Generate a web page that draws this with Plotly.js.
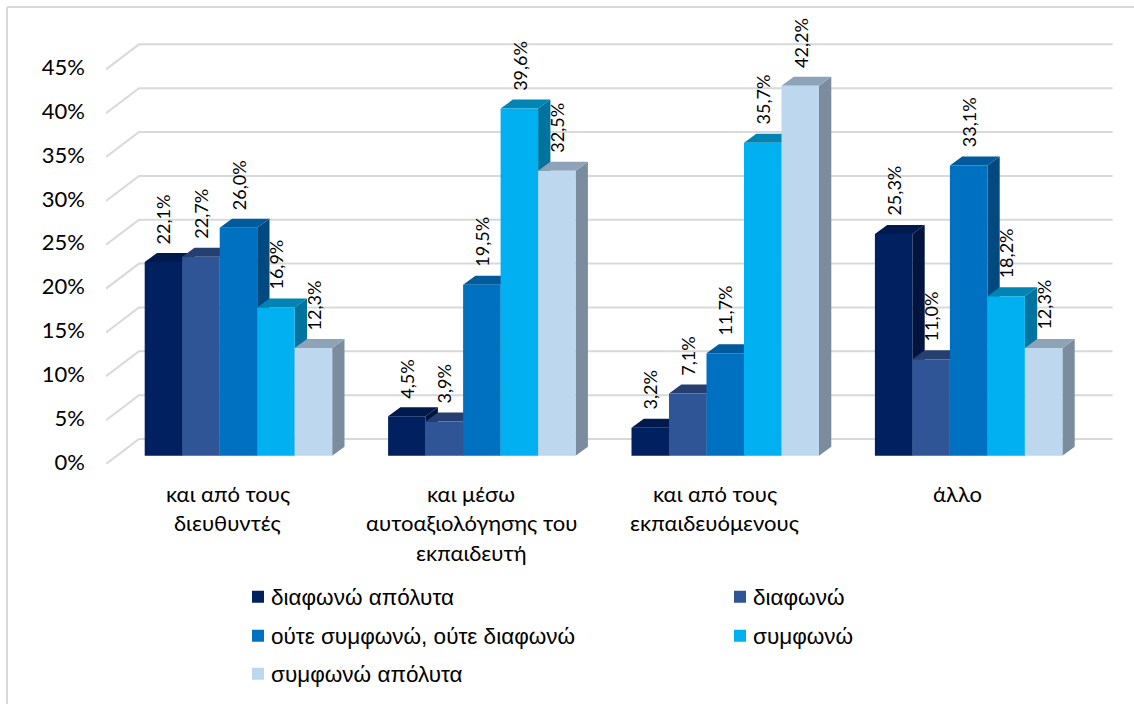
<!DOCTYPE html>
<html>
<head>
<meta charset="utf-8">
<script src="https://cdn.plot.ly/plotly-3.0.1.min.js"></script>
<style>
html,body{margin:0;padding:0;background:#fff}
#chart{width:1134px;height:704px}
/* tighter gap between legend swatch and its text */
.legendtext,.legend2text,.legend3text,.legend4text,.legend5text{transform:translateX(-7px)}
</style>
</head>
<body>
<div id="chart"></div>
<script>
// Survey responses per evaluation source, drawn as pseudo-3D clustered columns.
const categoryLines = [
  ["και από τους", "διευθυντές"],
  ["και μέσω", "αυτοαξιολόγησης του", "εκπαιδευτή"],
  ["και από τους", "εκπαιδευόμενους"],
  ["άλλο"]
];
const seriesNames = ["διαφωνώ απόλυτα", "διαφωνώ", "ούτε συμφωνώ, ούτε διαφωνώ", "συμφωνώ", "συμφωνώ απόλυτα"];
const stronglyDisagree = [22.1, 4.5, 3.2, 25.3];
const disagree = [22.7, 3.9, 7.1, 11.0];
const neutral = [26.0, 19.5, 11.7, 33.1];
const agree = [16.9, 39.6, 35.7, 18.2];
const stronglyAgree = [12.3, 32.5, 42.2, 12.3];
const seriesValues = [stronglyDisagree, disagree, neutral, agree, stronglyAgree];
const yTicks = [0, 5, 10, 15, 20, 25, 30, 35, 40, 45];

const frontColors = ["#002060", "#2F5597", "#0070C0", "#00B0F0", "#BDD7EE"];
const topColors = ["#001A4D", "#263F70", "#005A9C", "#0084B4", "#8FA3B8"];
const sideColors = ["#001440", "#1E3560", "#004A80", "#00749E", "#7A8C9E"];

// Pixel-to-data scales of the plot area
const W = 1134, H = 704, ML = 106, MR = 20, MT = 40, MB = 240;
const PX_PER_GROUP = 243.4, PX_PER_PCT = 8.77;
const xMax = (W - ML - MR) / PX_PER_GROUP;
const yMax = (H - MT - MB) / PX_PER_PCT;
const FONT = 'Lato, "Noto Sans", sans-serif';
const LEGEND_FONT = '"Liberation Sans", Arial, sans-serif';

// Depth of the floor and of each column, in data units
const wallDx = 33 / PX_PER_GROUP, wallDy = 25 / PX_PER_PCT;
const colDx = 12.3 / PX_PER_GROUP, colDy = 9 / PX_PER_PCT;
const colBase = 8.2 / PX_PER_PCT;
const colWidth = 37.5 / PX_PER_GROUP, groupPad = 38.7 / PX_PER_GROUP;

const colCenter = (g, s) => g + groupPad + (s + 0.5) * colWidth;

function polygons(build) {
  const xs = [], ys = [];
  seriesValues[0].forEach((_, g) => {
    build(g).forEach(p => { xs.push(p[0]); ys.push(p[1]); });
    xs.push(null); ys.push(null);
  });
  return { x: xs, y: ys };
}

const traces = [];

// Wall and floor gridlines behind the columns
const gridX = [], gridY = [];
yTicks.forEach(t => {
  gridX.push(0, wallDx, categoryLines.length + wallDx, null);
  gridY.push(t, t + wallDy, t + wallDy, null);
});
traces.push({
  type: "scatter", mode: "lines", x: gridX, y: gridY, showlegend: false, hoverinfo: "skip",
  line: { color: "#D9D9D9", width: 2 }, zorder: 0
});

// Painted left to right: each column's side and top, then its front face
seriesNames.forEach((name, s) => {
  const vals = seriesValues[s];
  const side = polygons(g => {
    const xr = colCenter(g, s) + colWidth / 2, t = colBase + vals[g];
    return [[xr, colBase], [xr + colDx, colBase + colDy], [xr + colDx, t + colDy], [xr, t], [xr, colBase]];
  });
  const top = polygons(g => {
    const xl = colCenter(g, s) - colWidth / 2, xr = xl + colWidth, t = colBase + vals[g];
    return [[xl, t], [xl + colDx, t + colDy], [xr + colDx, t + colDy], [xr, t], [xl, t]];
  });
  [[side, sideColors[s]], [top, topColors[s]]].forEach(([poly, color]) => {
    traces.push({
      type: "scatter", mode: "lines", x: poly.x, y: poly.y, fill: "toself", fillcolor: color,
      line: { width: 0, color: color }, showlegend: false, hoverinfo: "skip", zorder: 1 + s * 2
    });
  });
  traces.push({
    type: "bar", name: name, x: vals.map((_, g) => colCenter(g, s)), y: vals,
    base: vals.map(() => colBase), width: colWidth,
    marker: { color: frontColors[s], line: { width: 0 } },
    legend: s === 0 ? "legend" : "legend" + (s + 1),
    zorder: 2 + s * 2, hovertemplate: name + ": %{y}%<extra></extra>"
  });
});

// Rotated value labels above every column
const annotations = [];
seriesValues.forEach((vals, s) => vals.forEach((v, g) => {
  annotations.push({
    x: colCenter(g, s), y: colBase + v, xref: "x", yref: "y", yshift: 16,
    text: v.toFixed(1).replace(".", ",") + "%", textangle: -90, showarrow: false,
    xanchor: "center", yanchor: "bottom", font: { family: FONT, size: 18, color: "#000" }
  });
}));

// Category captions with the wide line spacing of the original
categoryLines.forEach((lines, g) => lines.forEach((line, j) => {
  annotations.push({
    x: g + 0.5, y: 0, xref: "x", yref: "y", yshift: -(29 + j * 29.5), text: line,
    showarrow: false, xanchor: "center", yanchor: "middle",
    font: { family: FONT, size: 22, color: "#000" }
  });
}));

const plotW = W - ML - MR, plotH = H - MT - MB;
const paperX = px => (px - ML) / plotW;
const paperY = py => 1 - (py - MT) / plotH;

// One legend per entry, laid out in two columns and three rows
const legendAt = (px, py) => ({
  x: paperX(px), y: paperY(py), xanchor: "left", yanchor: "middle", xref: "paper", yref: "paper",
  bgcolor: "rgba(0,0,0,0)", font: { family: LEGEND_FONT, size: 22.5, color: "#000" }
});

const layout = {
  width: W, height: H, margin: { l: ML, r: MR, t: MT, b: MB, pad: 0, autoexpand: false },
  paper_bgcolor: "#fff", plot_bgcolor: "#fff", barmode: "overlay", font: { family: FONT },
  xaxis: { range: [0, xMax], showgrid: false, zeroline: false, showline: false, showticklabels: false, ticks: "", fixedrange: true },
  yaxis: {
    range: [0, yMax], tickmode: "array", tickvals: yTicks, ticktext: yTicks.map(t => t + "%"),
    showgrid: false, zeroline: false, showline: false, ticks: "", ticklabelstandoff: 20, ticklabelshift: -2,
    tickfont: { family: FONT, size: 22, color: "#000" }, fixedrange: true
  },
  legend: legendAt(238, 597),
  legend2: legendAt(720, 597),
  legend3: legendAt(238, 636),
  legend4: legendAt(720, 636),
  legend5: legendAt(238, 674),
  annotations: annotations,
  shapes: [
    { type: "line", xref: "paper", yref: "paper", x0: paperX(7), x1: paperX(7), y0: paperY(7), y1: paperY(H), line: { color: "#D9D9D9", width: 2 } },
    { type: "line", xref: "paper", yref: "paper", x0: paperX(7), x1: paperX(W), y0: paperY(7), y1: paperY(7), line: { color: "#D9D9D9", width: 2 } }
  ]
};

Plotly.newPlot("chart", traces, layout, { displayModeBar: false, responsive: false });
</script>
</body>
</html>
